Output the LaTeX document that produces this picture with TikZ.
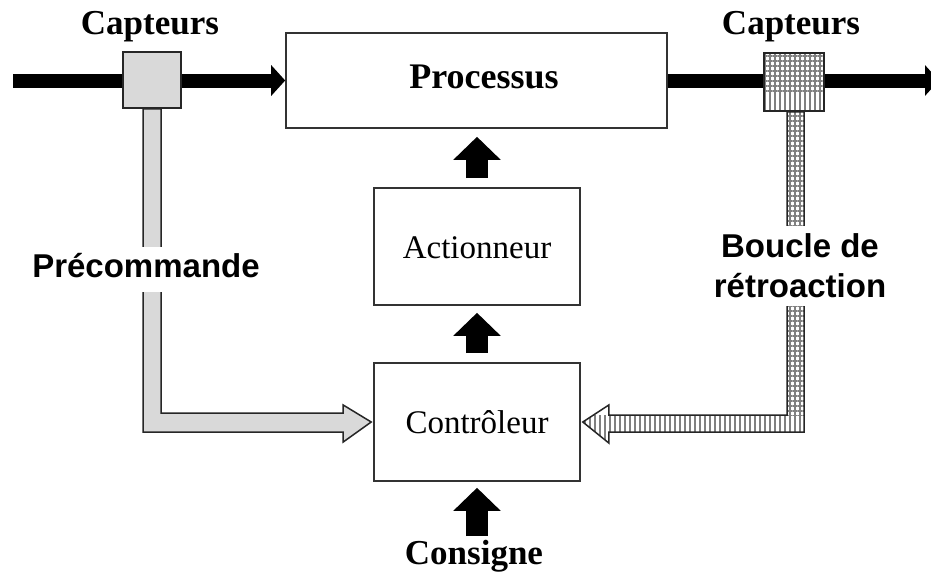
\documentclass[tikz,border=0pt]{standalone}
\usepackage{fontspec}
\setmainfont{Liberation Serif}
\newfontfamily\arialfont{Liberation Sans}
\usetikzlibrary{arrows.meta,calc,patterns.meta}
\begin{document}
\begin{tikzpicture}[x=1pt,y=-1pt,
  frame/.style={draw=black!80, line width=1.6pt, fill=white, inner sep=0pt},
  sensor/.style={draw=black!85, line width=1.5pt, inner sep=0pt},
  fbold/.style={font=\fontsize{35}{40}\selectfont\bfseries},
  freg/.style={font=\fontsize{33}{38}\selectfont},
  fsans/.style={font=\fontsize{33}{40}\selectfont\arialfont\bfseries},
  bigline/.style={line width=14pt, -{Triangle[width=30pt,length=14pt]}},
  blk/.style={line width=22pt, -{Triangle[width=46pt,length=23pt]}},
  pipeedge/.style={draw=black!85, line width=1.5pt, line join=miter},
  gridpat/.style={pattern={Hatch[distance=5pt,line width=2.2pt]}, pattern color=black!50},
  stripepat/.style={pattern={Lines[angle=90,distance=5pt,line width=2.2pt]}, pattern color=black!50},
]
\useasboundingbox (0,0) rectangle (931,576);
\fill[white] (0,0) rectangle (931,576);

% boxes
\node[frame, minimum width=381pt, minimum height=95pt, font=\fontsize{36}{40}\selectfont\bfseries, text height=22pt, text depth=7pt] (proc) at (476.5,80.5) {\hspace*{15pt}Processus};
\node[frame, minimum width=206pt, minimum height=117pt, freg, text height=26pt, text depth=3pt] (act) at (477,246.5) {Actionneur};
\node[frame, minimum width=206pt, minimum height=118pt, freg, text height=25pt, text depth=3pt] (ctrl) at (477,422) {Contrôleur};

% main flow
\coordinate (in) at (13,80.5);
\coordinate (out) at (939,80.5);
\draw[bigline] (in) -- (proc.west);
\draw[bigline] (proc.east) -- (out);

% sensors
\node[sensor, fill=black!15, minimum width=58pt, minimum height=56pt] (sens1) at (152,80) {};
\node[sensor, fill=white, minimum width=60pt, minimum height=58pt,
  path picture={
    \fill[gridpat] (path picture bounding box.north west) rectangle ([yshift=18pt]path picture bounding box.south east);
    \fill[stripepat] ([yshift=18pt]path picture bounding box.south west) rectangle (path picture bounding box.south east);
  }] (sens2) at (794,82) {};

% feed-forward pipe
\draw[pipeedge, fill=black!15] ($(sens1.south)+(-9,0)$) |- ($(ctrl.west)+(-30,10)$) -- ($(ctrl.west)+(-30,20)$) -- ($(ctrl.west)+(-2,0)$) -- ($(ctrl.west)+(-30,-17)$) -- ($(ctrl.west)+(-30,-9)$) -| ($(sens1.south)+(9,0)$) -- cycle;

% feedback pipe
\path[save path=\pipeR] ($(sens2.south)+(10,0)$) |- ($(ctrl.east)+(28,10)$) -- ($(ctrl.east)+(28,21)$) -- ($(ctrl.east)+(2,0)$) -- ($(ctrl.east)+(28,-17)$) -- ($(ctrl.east)+(28,-7)$) -| ($(sens2.south)+(-7,0)$) -- cycle;
\fill[white, use path=\pipeR];
\begin{scope}
  \clip[use path=\pipeR];
  \fill[gridpat] (770,100) rectangle (815,415);
  \fill[stripepat] (570,415) rectangle (815,450);
\end{scope}
\draw[pipeedge, use path=\pipeR];

% labels
\node[fsans, fill=white, anchor=base, inner sep=0pt, text height=30pt, text depth=15pt] (precom) at (146,277) {Précommande};
\node[fsans, fill=white, align=center, inner xsep=0pt, inner ysep=8pt] (boucle) at (800,266) {Boucle de\\rétroaction};
\node[fbold, anchor=base] (cap1) at (150,34) {Capteurs};
\node[fbold, anchor=base] (cap2) at (791,34) {Capteurs};
\node[fbold, anchor=base] (consigne) at (474,564) {Consigne};

% block arrows
\draw[blk] ($(act.north)+(0,-9)$) -- ($(act.north |- proc.south)+(0,8)$);
\draw[blk] ($(ctrl.north)+(0,-9)$) -- ($(ctrl.north |- act.south)+(0,7)$);
\draw[blk] (ctrl.south |- consigne.north) -- ($(ctrl.south)+(0,6)$);
\end{tikzpicture}
\end{document}
